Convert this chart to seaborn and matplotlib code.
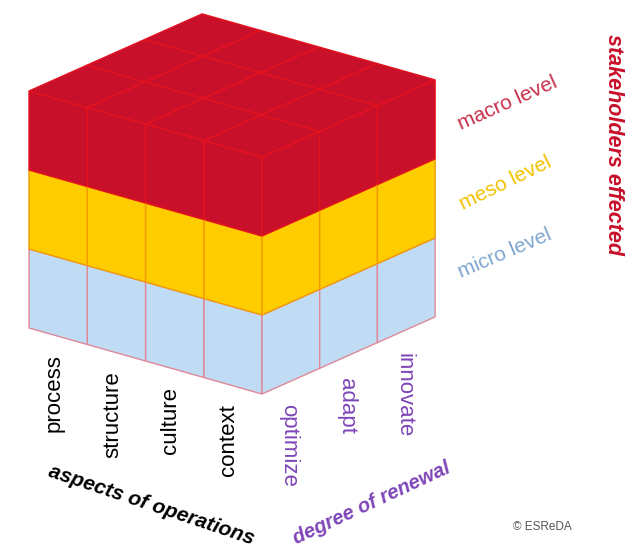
import numpy as np
import seaborn as sns
import matplotlib.pyplot as plt

# data
aspects = ["process", "structure", "culture", "context"]
renewal = ["optimize", "adapt", "innovate"]
levels = ["micro level", "meso level", "macro level"]
face_colors = ["#BFDCF4", "#FFCC00", "#C8102A"]
line_colors = ["#E08898", "#F29A00", "#E5121E"]
label_colors = ["#7FA6CF", "#F2C200", "#C8304A"]
purple = "#7E45B8"

sns.set_theme(style="white")
plt.rcParams['font.family'] = ['Liberation Sans', 'DejaVu Sans']

fig = plt.figure(figsize=(6.26, 5.5), dpi=100)
ax = fig.add_axes([0, 0, 1, 1])
ax.set_xlim(0, 626)
ax.set_ylim(550, 0)
ax.axis('off')

# projection of the cube grid (a: aspects, r: renewal, z: level)
origin = np.array([262.0, 394.0])
va_ = np.array([-58.25, -16.5])
vr_ = np.array([57.7, -25.7])
vz_ = np.array([0.0, -79.0])

def P(a, r, z):
    return origin + a * va_ + r * vr_ + z * vz_

def quad(pts, fc, ec):
    pts = np.array(pts)
    ax.fill(pts[:, 0], pts[:, 1], facecolor=fc, edgecolor=ec, linewidth=1.0)

na, nr, nz = len(aspects), len(renewal), len(levels)

# left face
for j in range(na):
    for k in range(nz):
        quad([P(j, 0, k), P(j + 1, 0, k), P(j + 1, 0, k + 1), P(j, 0, k + 1)],
             face_colors[k], line_colors[k])
# right face
for i in range(nr):
    for k in range(nz):
        quad([P(0, i, k), P(0, i + 1, k), P(0, i + 1, k + 1), P(0, i, k + 1)],
             face_colors[k], line_colors[k])
# top face
for j in range(na):
    for i in range(nr):
        quad([P(j, i, nz), P(j + 1, i, nz), P(j + 1, i + 1, nz), P(j, i + 1, nz)],
             face_colors[-1], line_colors[-1])

# column labels
for j, name in enumerate(aspects):
    x, y = P(na - j - 0.5, 0, 0)
    ax.text(x - 4, y + 18, name, rotation=90, ha='center', va='top',
            fontsize=16, color='black')
for i, name in enumerate(renewal):
    x, y = P(0, i + 0.5, 0)
    ax.text(x - 2, y + 23, name, rotation=-90, ha='center', va='top',
            fontsize=16, color=purple)

# level labels
lvl_pos = [(505, 253, 23), (505, 183, 26), (508, 103, 24)]
for k, name in enumerate(levels):
    x, y, rot = lvl_pos[k]
    ax.text(x, y, name, rotation=rot, rotation_mode='anchor', ha='center',
            va='center', fontsize=15, color=label_colors[k])

# axis titles
ax.text(151, 505, "aspects of operations", rotation=-18.5, rotation_mode='anchor',
        ha='center', va='center', fontsize=15, fontweight='bold',
        fontstyle='italic', color='black')
ax.text(372, 503, "degree of renewal", rotation=25, rotation_mode='anchor',
        ha='center', va='center', fontsize=14.5, fontweight='bold',
        fontstyle='italic', color=purple)
ax.text(614, 144, "stakeholders effected", rotation=-90, rotation_mode='anchor',
        ha='center', va='center', fontsize=15.5, fontweight='bold',
        fontstyle='italic', color="#C8102A")
ax.text(542, 527, "© ESReDA", ha='center', va='center', fontsize=8.5,
        color='#555555')

fig.savefig("out.png", dpi=100)
